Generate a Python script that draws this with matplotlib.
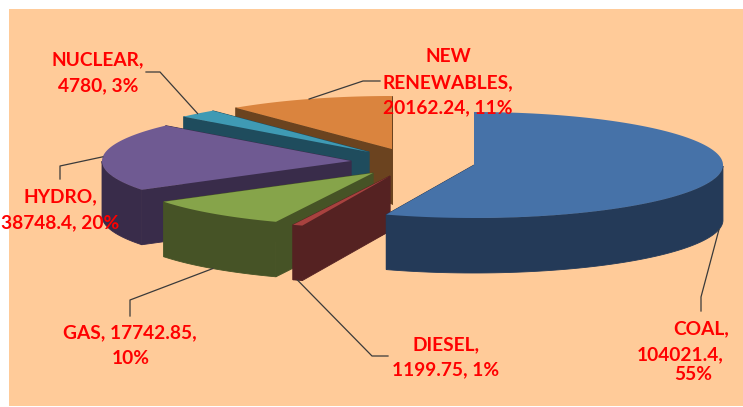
import numpy as np
import matplotlib
matplotlib.use('Agg')
import matplotlib.pyplot as plt
from matplotlib.patches import Rectangle

# chart data, clockwise from 12 o'clock
categories = ['COAL', 'DIESEL', 'GAS', 'HYDRO', 'NUCLEAR', 'NEW RENEWABLES']
values = [104021.4, 1199.75, 17742.85, 38748.4, 4780, 20162.24]
percent_labels = [55, 1, 10, 20, 3, 11]

# label text, broken up the way the chart wraps it
label_lines = [
    ['COAL,', '104021.4,', '55%'],
    ['DIESEL,', '1199.75, 1%'],
    ['GAS, 17742.85,', '10%'],
    ['HYDRO,', '38748.4, 20%'],
    ['NUCLEAR,', '4780, 3%'],
    ['NEW', 'RENEWABLES,', '20162.24, 11%'],
]

top_colors = ['#4672A8', '#A8423F', '#86A44A', '#6F5A92', '#3F9AB4', '#DA843E']
side_colors = ['#243A58', '#552222', '#465326', '#392C4A', '#1F4C5D', '#6B431F']

# layout in pixels
RX, RY, DEPTH = 249, 53, 55
apex = [(474, 165), (390, 176), (373, 173), (351, 161), (369, 152), (392, 149)]
label_pos = [
    [(701, 329), (680, 355), (693, 375)],
    [(446, 345), (446, 370)],
    [(130, 333), (131, 358)],
    [(60, 197), (60, 223)],
    [(98, 60), (98, 86)],
    [(448, 57), (448, 83), (448, 108)],
]
# elbow + end of each leader line
leader_bends = [
    [(701, 297), (701, 311)],
    [(372, 356), (388, 356)],
    [(130, 300), (130, 316)],
    [(60, 166), (60, 179)],
    [(160, 72), (146, 72)],
    [(363, 81), (380, 81)],
]


def rim(center, ang):
    return center[0] + RX * np.sin(ang), center[1] - RY * np.cos(ang)


fig = plt.figure(figsize=(7.43, 4.07), dpi=100)
ax = fig.add_axes([0, 0, 1, 1])
ax.set_xlim(0, 743)
ax.set_ylim(407, 0)
ax.axis('off')
ax.add_patch(Rectangle((9, 9), 734, 397, facecolor='#FFCB99', edgecolor='none', zorder=0))

fractions = np.array(values) / np.sum(values)
edges = np.concatenate([[0], np.cumsum(fractions)]) * 2 * np.pi

# back wedges first so the front ones paint over them
for i in [5, 4, 3, 2, 1, 0]:
    a0, a1 = edges[i], edges[i + 1]
    c = apex[i]
    z = 2 + (5 - i)
    arc = np.linspace(a0, a1, 120)
    ax_, ay_ = rim(c, arc)

    # cut faces
    for a in (a0, a1):
        px, py = rim(c, a)
        ax.fill([c[0], px, px, c[0]], [c[1], py, py + DEPTH, c[1] + DEPTH],
                color=side_colors[i], lw=0.6, zorder=z)

    # outer wall, only the part that faces the viewer
    front = arc[np.cos(arc) <= 0]
    if len(front) > 1:
        fx, fy = rim(c, front)
        ax.fill(np.r_[fx, fx[::-1]], np.r_[fy, fy[::-1] + DEPTH],
                color=side_colors[i], lw=0.6, zorder=z)

    # top
    ax.fill(np.r_[c[0], ax_], np.r_[c[1], ay_], color=top_colors[i], lw=0, zorder=z)

    # leader line from the middle of the wedge
    mid = (a0 + a1) / 2
    sx, sy = rim(c, mid)
    if np.cos(mid) <= 0.2:
        sy += DEPTH
    if i == 3:
        sy -= DEPTH
    xs = [sx] + [p[0] for p in leader_bends[i]]
    ys = [sy] + [p[1] for p in leader_bends[i]]
    ax.plot(xs, ys, color='#3A3A3A', lw=0.9, zorder=10)

for lines, positions in zip(label_lines, label_pos):
    for line, (x, y) in zip(lines, positions):
        ax.text(x, y, line, color='#FF0000', family='Lato', fontweight='bold',
                fontsize=13.8, ha='center', va='center', zorder=12)

fig.savefig('out.png', dpi=100, facecolor='white')
